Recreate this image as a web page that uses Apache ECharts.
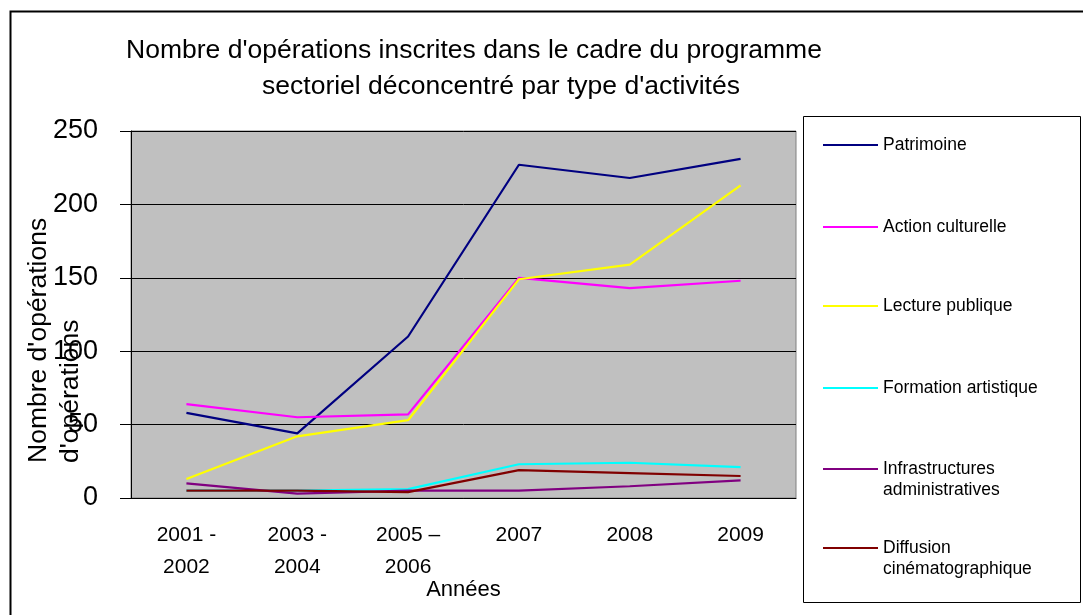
<!DOCTYPE html>
<html>
<head>
<meta charset="utf-8">
<script src="https://cdn.jsdelivr.net/npm/echarts@6/dist/echarts.min.js"></script>
<style>
    html, body { margin: 0; padding: 0; background: #fff; }
    #main { width: 1083px; height: 615px; }
</style>
</head>
<body>
<div id="main"></div>
<script>
    // categories (x axis)
    var annees = ['2001 -\n2002', '2003 -\n2004', '2005 –\n2006', '2007', '2008', '2009'];

    // series values
    var patrimoine = [58, 44, 110, 227, 218, 231];
    var actionCulturelle = [64, 55, 57, 150, 143, 148];
    var lecturePublique = [13, 42, 53, 149, 159, 213];
    var formationArtistique = [5, 5, 6, 23, 24, 21];
    var infrastructures = [10, 3, 5, 5, 8, 12];
    var diffusion = [5, 5, 4, 19, 17, 15];

    var seriesNames = ['Patrimoine', 'Action culturelle', 'Lecture publique', 'Formation artistique',
        'Infrastructures\nadministratives', 'Diffusion\ncinématographique'];
    var seriesData = [patrimoine, actionCulturelle, lecturePublique, formationArtistique, infrastructures, diffusion];
    var couleurs = ['#000080', '#FF00FF', '#FFFF00', '#00FFFF', '#800080', '#800000'];

    var FONT = '"Liberation Sans", Arial, sans-serif';
    var chart = echarts.init(document.getElementById('main'));

    var series = seriesNames.map(function (name, i) {
        return {
            name: name,
            type: 'line',
            data: seriesData[i],
            symbol: 'none',
            color: couleurs[i],
            lineStyle: { width: 2.2, color: couleurs[i] }
        };
    });

    // one legend per entry so they sit at the same spacing as the original
    var LH = 21;
    var legendY = [145, 227, 306, 388, 469, 548];
    var legends = seriesNames.map(function (name, i) {
        var multi = name.indexOf('\n') >= 0;
        return {
            data: [name],
            left: 823,
            top: legendY[i] - (multi ? 1.5 * LH : 0.5 * LH),
            padding: 0,
            icon: 'rect',
            itemWidth: 55,
            itemHeight: 2,
            selectedMode: false,
            // blank line on top so the icon stays level with the first line
            formatter: function (n) { return multi ? ' \n' + n : n; },
            textStyle: {
                fontFamily: FONT,
                fontSize: 17.5,
                color: '#000',
                lineHeight: LH
            }
        };
    });

    chart.setOption({
        animation: false,
        backgroundColor: '#fff',
        title: [
            {
                text: "Nombre d'opérations inscrites dans le cadre du programme",
                left: 469, top: 32, textAlign: 'center',
                textStyle: { fontFamily: FONT, fontSize: 26.5, fontWeight: 'normal', color: '#000' }
            },
            {
                text: "sectoriel déconcentré par type d'activités",
                left: 496, top: 68, textAlign: 'center',
                textStyle: { fontFamily: FONT, fontSize: 26.5, fontWeight: 'normal', color: '#000' }
            }
        ],
        legend: legends,
        grid: {
            left: 131, right: 287, top: 131, bottom: 117,
            show: true,
            backgroundColor: '#C0C0C0',
            borderColor: '#808080',
            borderWidth: 1
        },
        xAxis: {
            type: 'category',
            data: annees,
            boundaryGap: true,
            name: 'Années',
            nameLocation: 'middle',
            nameGap: 81,
            nameMoveOverlap: false,
            nameTextStyle: { fontFamily: FONT, fontSize: 22, color: '#000' },
            axisLine: { lineStyle: { color: '#000', width: 1 } },
            axisTick: { length: 8, lineStyle: { color: '#000' } },
            axisLabel: { fontFamily: FONT, fontSize: 21, color: '#000', lineHeight: 32, margin: 21 },
            splitLine: { show: false }
        },
        yAxis: {
            type: 'value',
            min: 0, max: 250, interval: 50,
            axisLine: { show: true, lineStyle: { color: '#000', width: 1 } },
            axisTick: { show: true, length: 11, lineStyle: { color: '#000' } },
            axisLabel: { fontFamily: FONT, fontSize: 27, color: '#000', margin: 33 },
            splitLine: { show: true, lineStyle: { color: '#000', width: 1 } }
        },
        graphic: [
            {
                type: 'rect', silent: true,
                shape: { x: 10.5, y: 11.5, width: 1100, height: 700 },
                style: { fill: 'none', stroke: '#000', lineWidth: 2 }
            },
            {
                type: 'rect', silent: true, z: -1,
                shape: { x: 803.5, y: 116.5, width: 277, height: 486 },
                style: { fill: '#fff', stroke: '#000', lineWidth: 1 }
            },
            {
                type: 'text', silent: true, x: 39, y: 463, rotation: Math.PI / 2,
                style: { text: "Nombre d'opérations", fontFamily: FONT, fontSize: 26.5, fill: '#000',
                    align: 'left', verticalAlign: 'middle' }
            },
            {
                type: 'text', silent: true, x: 71, y: 463, rotation: Math.PI / 2,
                style: { text: "d'opérations", fontFamily: FONT, fontSize: 26.5, fill: '#000',
                    align: 'left', verticalAlign: 'middle' }
            }
        ],
        series: series
    });
</script>
</body>
</html>
